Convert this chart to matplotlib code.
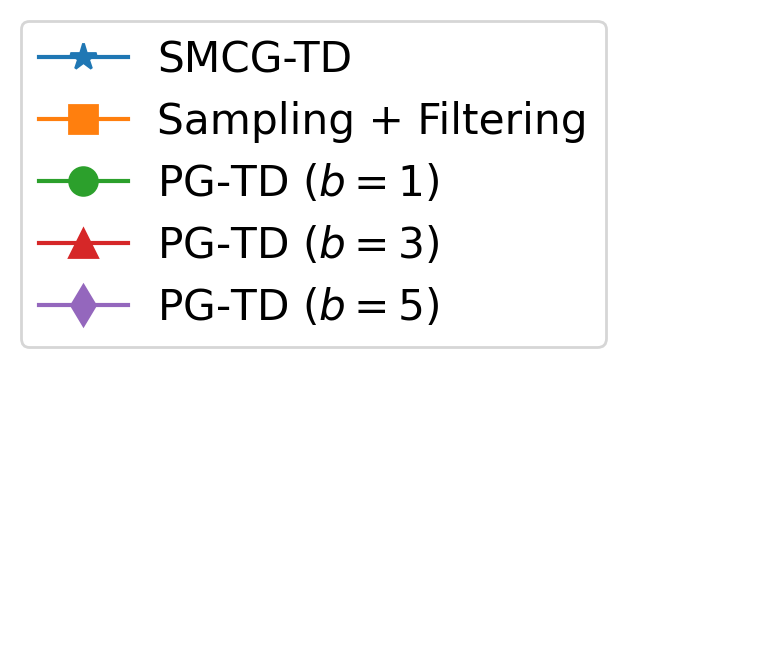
import matplotlib
matplotlib.use("Agg")
import matplotlib.pyplot as plt
from matplotlib.lines import Line2D

labels = ["SMCG-TD", "Sampling + Filtering", "PG-TD ($b=1$)", "PG-TD ($b=3$)", "PG-TD ($b=5$)"]
markers = ["*", "s", "o", "^", "d"]
colors = ["#1f77b4", "#ff7f0e", "#2ca02c", "#d62728", "#9467bd"]

DPI = 200
fig = plt.figure(figsize=(761 / DPI, 653 / DPI), dpi=DPI)

handles = [Line2D([], [], color=c, marker=m, markersize=10, linewidth=1.5)
           for c, m in zip(colors, markers)]

fig.legend(handles, labels, loc="upper left",
           bbox_to_anchor=(21 / 761, 1 - 21 / 653),
           bbox_transform=fig.transFigure, borderaxespad=0, fontsize=15.2,
           handlelength=2.1, handletextpad=0.69, labelspacing=0.47,
           borderpad=0.43)

fig.savefig("out.png", dpi=DPI)
